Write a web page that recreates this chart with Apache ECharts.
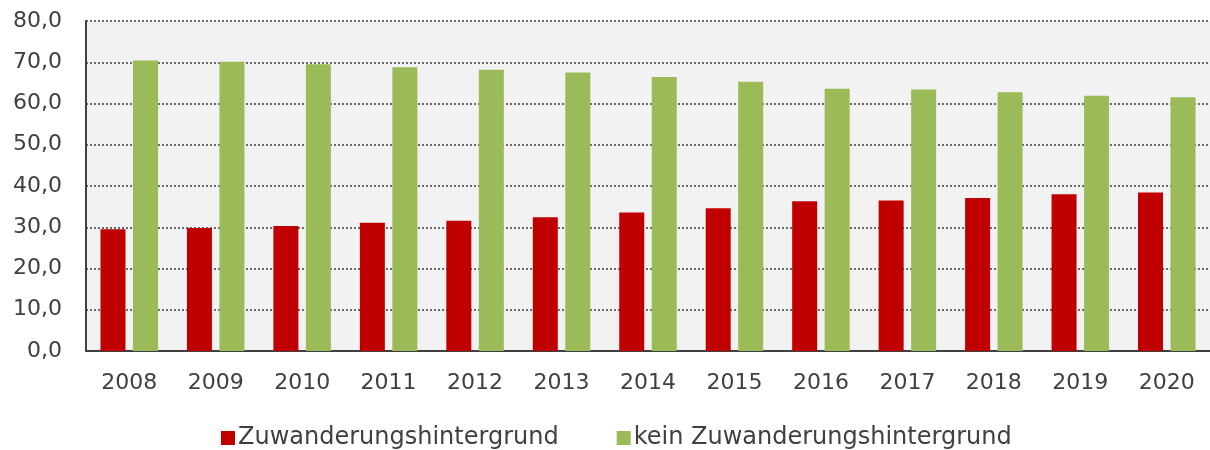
<!DOCTYPE html>
<html>
<head>
<meta charset="utf-8">
<script src="https://cdn.jsdelivr.net/npm/echarts@6/dist/echarts.min.js"></script>
<style>
  html, body { margin: 0; padding: 0; background: #ffffff; }
  #chart { width: 1210px; height: 450px; }
</style>
</head>
<body>
<div id="chart"></div>
<script>
const years = ["2008", "2009", "2010", "2011", "2012", "2013", "2014", "2015", "2016", "2017", "2018", "2019", "2020"];
const mitZuwanderung = [29.5, 29.8, 30.3, 31.1, 31.6, 32.4, 33.6, 34.6, 36.3, 36.5, 37.1, 38.0, 38.4];
const ohneZuwanderung = [70.4, 70.1, 69.5, 68.8, 68.2, 67.5, 66.4, 65.3, 63.6, 63.4, 62.7, 61.9, 61.5];
const seriesNames = ["Zuwanderungshintergrund", "kein Zuwanderungshintergrund"];

const textColor = "#404040";
const font = "'DejaVu Sans', Verdana, sans-serif";

const chart = echarts.init(document.getElementById("chart"));

chart.setOption({
  animation: false,
  backgroundColor: "#ffffff",
  textStyle: { fontFamily: font },
  grid: {
    left: 86,
    right: 0,
    top: 21,
    bottom: 99,
    show: true,
    backgroundColor: "#f2f2f2",
    borderWidth: 0,
  },
  legend: {
    left: 216,
    top: 421,
    itemWidth: 14,
    itemHeight: 14,
    itemGap: 58,
    icon: "rect",
    textStyle: { color: textColor, fontSize: 24, fontFamily: font, padding: [0, 0, 0, -2] },
    data: seriesNames,
  },
  xAxis: {
    type: "category",
    data: years,
    axisTick: { show: false },
    axisLine: { show: true, lineStyle: { color: textColor, width: 2 } },
    axisLabel: { color: textColor, fontSize: 22, margin: 21, fontFamily: font },
  },
  yAxis: {
    type: "value",
    min: 0,
    max: 80,
    interval: 10,
    axisLine: { show: true, lineStyle: { color: textColor, width: 2 } },
    axisTick: { show: false },
    axisLabel: {
      color: textColor,
      fontSize: 22,
      margin: 24,
      fontFamily: font,
      formatter: (value) => value.toFixed(1).replace(".", ","),
    },
    splitLine: {
      show: true,
      lineStyle: { color: "#4a4a4a", width: 1.6, type: [2, 2] },
    },
  },
  series: [
    {
      name: seriesNames[0],
      type: "bar",
      data: mitZuwanderung,
      barWidth: 25,
      barGap: "30%",
      itemStyle: { color: "#c00000" },
    },
    {
      name: seriesNames[1],
      type: "bar",
      data: ohneZuwanderung,
      barWidth: 25,
      itemStyle: { color: "#9bbb59" },
    },
  ],
});
</script>
</body>
</html>
